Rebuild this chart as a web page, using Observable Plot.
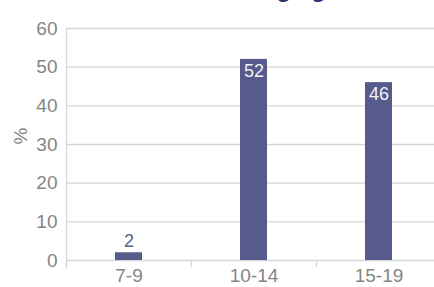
<!DOCTYPE html>
<html>
<head>
<meta charset="utf-8">
<script src="https://cdn.jsdelivr.net/npm/d3@7"></script>
<script src="https://cdn.jsdelivr.net/npm/@observablehq/plot@0.6"></script>
<style>
  html, body { margin: 0; padding: 0; background: #fff; }
  svg { display: block; }
</style>
</head>
<body>
<div id="chart"></div>
<script>
const title = "Starting age";
const categories = ["7-9", "10-14", "15-19"];
const values = [2, 52, 46];
const yTicks = [0, 10, 20, 30, 40, 50, 60];
const yLabel = "%";

const data = categories.map((c, i) => ({cat: c, value: values[i]}));
const barColor = "#565b8c";
const gridColor = "#d6d6d6";
const textGray = "#858585";
const font = "Liberation Sans, Arial, sans-serif";

const chart = Plot.plot({
  width: 434,
  height: 287,
  marginLeft: 66,
  marginRight: 0,
  marginTop: 28,
  marginBottom: 27,
  style: {fontFamily: font, background: "#fff"},
  x: {domain: categories, range: [66, 441], padding: 0},
  y: {domain: [0, 60], range: [260, 28]},
  marks: [
    Plot.ruleY(yTicks, {stroke: gridColor, strokeWidth: 1.3}),
    Plot.frame({anchor: "left", stroke: gridColor, strokeWidth: 1.3, insetBottom: -7}),
    Plot.ruleX(categories.slice(1), {x: d => d, y1: 0, y2: -1.8, dx: -62.5, stroke: gridColor, strokeWidth: 1.3}),
    Plot.barY(data, {x: "cat", y: "value", fill: barColor, insetLeft: 49, insetRight: 49}),
    Plot.text(data.filter(d => d.value >= 10), {x: "cat", y: "value", text: d => String(d.value), dy: 12, fill: "#f0f0f6", fontSize: 18}),
    Plot.text(data.filter(d => d.value < 10), {x: "cat", y: "value", text: d => String(d.value), dy: -12, fill: "#5a6090", fontSize: 18}),
    Plot.axisY(yTicks, {tickSize: 0, tickPadding: 9, fontSize: 19, fill: textGray, label: null}),
    Plot.text([yLabel], {frameAnchor: "left", dx: -46, rotate: -90, fontSize: 19, fill: textGray}),
    Plot.axisX(categories, {tickSize: 0, tickPadding: 8, fontSize: 19, fill: textGray, label: null}),
    Plot.text([title], {frameAnchor: "top-left", dx: 134, dy: -32, lineAnchor: "bottom", textAnchor: "start", fontSize: 24, fontWeight: "bold", fill: "#2b3470"})
  ]
});
document.getElementById("chart").append(chart);
</script>
</body>
</html>
